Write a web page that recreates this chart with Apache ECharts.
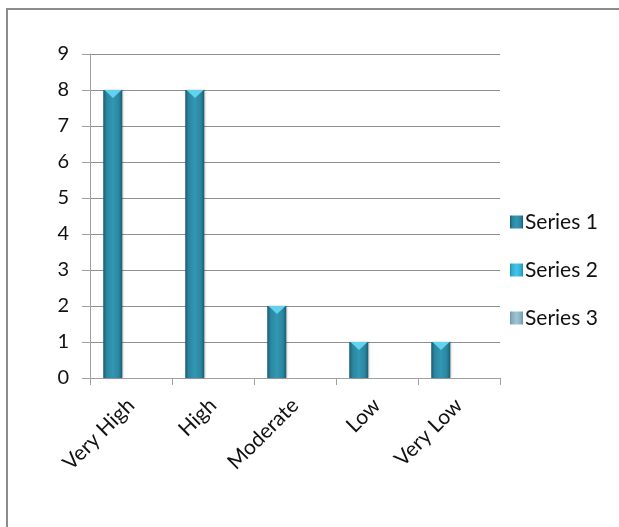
<!DOCTYPE html>
<html>
<head>
<meta charset="utf-8">
<script src="https://cdn.jsdelivr.net/npm/echarts@6/dist/echarts.min.js"></script>
<style>
  html, body { margin: 0; padding: 0; background: #ffffff; }
  #chart { width: 619px; height: 527px; }
</style>
</head>
<body>
<div id="chart"></div>
<script>
// Rating categories and counts per series
const categories = ['Very High', 'High', 'Moderate', 'Low', 'Very Low'];
const series1 = [8, 8, 2, 1, 1];
const series2 = [null, null, null, null, null];
const series3 = [null, null, null, null, null];
const seriesNames = ['Series 1', 'Series 2', 'Series 3'];
const yTicks = { min: 0, max: 9, interval: 1 };

const FONT = 'Lato, "Open Sans", sans-serif';

// Horizontal gradient gives the bars a rounded, bevelled look
function barGradient(edge, mid, center) {
  return new echarts.graphic.LinearGradient(0, 0, 1, 0, [
    { offset: 0, color: edge },
    { offset: 0.18, color: mid },
    { offset: 0.5, color: center },
    { offset: 0.82, color: mid },
    { offset: 1, color: edge }
  ]);
}

const chart = echarts.init(document.getElementById('chart'), null, { renderer: 'canvas' });

chart.setOption({
  animation: false,
  backgroundColor: '#ffffff',
  graphic: [{
    type: 'rect',
    shape: { x: 7, y: 9, width: 700, height: 600 },
    style: { fill: 'none', stroke: '#8c8c8c', lineWidth: 2 },
    silent: true,
    z: 100
  }],
  grid: { left: 90, right: 119, top: 54, bottom: 149 },
  legend: {
    data: seriesNames,
    orient: 'vertical',
    left: 505,
    top: 206,
    itemWidth: 13,
    itemHeight: 13,
    itemGap: 26,
    icon: 'rect',
    textStyle: { fontFamily: FONT, fontSize: 21, color: '#111', lineHeight: 22, padding: [0, 0, 0, -3] }
  },
  xAxis: {
    type: 'category',
    data: categories,
    axisLine: { show: true, lineStyle: { color: '#a0a0a0', width: 1 } },
    axisTick: { show: true, length: 7, lineStyle: { color: '#a0a0a0' } },
    axisLabel: {
      rotate: 45,
      margin: 24,
      interval: 0,
      fontFamily: FONT,
      fontSize: 21,
      color: '#111'
    }
  },
  yAxis: {
    type: 'value',
    min: yTicks.min,
    max: yTicks.max,
    interval: yTicks.interval,
    axisLine: { show: true, lineStyle: { color: '#a0a0a0', width: 1 } },
    axisTick: { show: true, length: 8, lineStyle: { color: '#a0a0a0' } },
    splitLine: { show: true, lineStyle: { color: '#8f8f8f', width: 1 } },
    axisLabel: {
      margin: 21,
      fontFamily: FONT,
      fontSize: 20,
      color: '#111'
    }
  },
  series: [
    {
      name: seriesNames[0],
      type: 'bar',
      data: series1,
      barWidth: 19,
      barGap: '-4%',
      itemStyle: {
        color: barGradient('#1a5c70', '#2a86a0', '#3397b3'),
        shadowColor: 'rgba(0,0,0,0.25)',
        shadowBlur: 2,
        shadowOffsetX: 1
      },
      z: 2
    },
    {
      name: seriesNames[1],
      type: 'bar',
      data: series2,
      barWidth: 19,
      barGap: '-4%',
      itemStyle: { color: barGradient('#1c8fb0', '#2fb2d6', '#45c4e6') }
    },
    {
      name: seriesNames[2],
      type: 'bar',
      data: series3,
      barWidth: 19,
      barGap: '-4%',
      itemStyle: { color: barGradient('#6d98a8', '#87b0c0', '#a0c4d2') }
    },
    {
      // Light bevel cap on top of each Series 1 bar
      name: 'cap',
      type: 'pictorialBar',
      data: series1,
      symbol: 'triangle',
      symbolRotate: 180,
      symbolPosition: 'end',
      symbolSize: [17, 8],
      symbolOffset: [-18, 0],
      itemStyle: { color: '#62d3ec' },
      silent: true,
      z: 5
    }
  ]
});
</script>
</body>
</html>
